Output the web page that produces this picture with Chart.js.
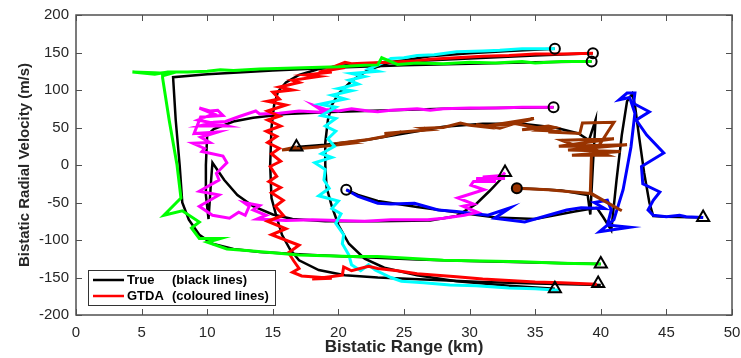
<!DOCTYPE html>
<html>
<head>
<meta charset="utf-8">
<script src="https://cdn.jsdelivr.net/npm/chart.js@4.4.1/dist/chart.umd.min.js"></script>
<style>
    html, body { margin: 0; padding: 0; background: #fff; }
    #wrap { width: 741px; height: 358px; position: relative; }
</style>
</head>
<body>
<div id="wrap"><canvas id="chart"></canvas></div>
<script>
// axes
const xTicks = [0, 5, 10, 15, 20, 25, 30, 35, 40, 45, 50];
const yTicks = [-200, -150, -100, -50, 0, 50, 100, 150, 200];

// true tracks (black lines), [range km, radial velocity m/s]
const greenTrue = [[39.3,138],[35,137],[30,135],[25,133],[20,130],[15,126],[10,121],[7.4,117],[7.6,60],[7.9,0],[8.1,-50],[8.6,-73],[9.4,-93],[10.4,-105],[12,-112],[14,-116],[18,-120],[22,-123],[26,-126],[30,-128],[35,-130],[40,-132]];
const redTrue = [[39.4,149],[35,146],[30,142],[25,138],[22,135],[20,132],[18.5,128],[17,120],[16,110],[15.4,98],[15.1,80],[14.9,50],[14.8,0],[14.9,-44],[15.3,-70],[15.7,-93],[16.3,-112],[17,-127],[18.5,-140],[20.5,-147],[23,-150],[27,-153],[31,-156],[35,-158],[40,-160]];
const cyanTrue = [[36.5,155],[33,152],[30,149],[27,145],[24,137],[22.3,127],[21,112],[20,95],[19.5,80],[19.2,60],[19,30],[19,0],[19.1,-30],[19.5,-55],[20,-80],[20.8,-105],[22,-125],[23.5,-137],[26,-147],[29,-155],[33,-161],[36.5,-165]];
const magentaTrue = [[36.4,77],[32,76],[28,75],[24,73],[20,71],[16,68],[13.5,63],[12,58],[10.5,48],[10,40],[9.9,0],[9.9,-40],[10.1,-72],[10.3,-20],[10.4,3],[11.3,-20],[12.3,-40],[13.5,-55],[15,-66],[16.5,-72],[19,-75],[23,-75],[27,-74],[29,-68],[30.5,-52],[31.5,-35],[32.7,-13]];
const brownTrue = [[16.8,24],[19,27],[22,33],[25,42],[28,51],[31,55],[34,55],[36.5,50],[38.3,42],[39.1,33],[39.6,60],[39.4,0],[39.2,-66],[39,-40],[37,-34],[35,-32],[33.6,-31]];
const blueTrue = [[47.8,-70],[45,-69],[44,-68],[43.7,-50],[43.3,-10],[42.9,40],[42.6,80],[42.4,95],[42,85],[41.6,40],[41.2,-20],[40.8,-87],[40.2,-70],[39.7,-57],[38,-62],[35,-72],[32,-70],[29,-63],[26,-56],[23,-48],[21.5,-40],[20.6,-33]];

// GTDA tracks (coloured lines)
const greenTrack = [[39.3,138],[37,138],[35,136],[34,138],[32,136],[30,137],[28,135],[26,136],[24.5,134],[23.3,143],[23,133.5],[22,133],[20,131],[18,130],[16,129],[14,128],[12,126],[11,127],[10,125],[8.5,124],[7,124],[6,121],[4.3,124],[6,123],[7.2,122],[6.6,119],[6.6,116],[7.1,60],[7.7,0],[8,-44],[6.7,-67],[8.1,-61],[9.4,-76],[8.8,-84],[9.4,-98],[11,-98],[10,-103],[11.5,-112],[13,-114],[15,-117],[17,-120],[19,-121],[21,-122],[23,-122],[25,-124],[28,-127],[31,-128],[34,-129],[37,-131],[40,-132]];
const redTrack = [[39.4,149],[37,148],[35,148],[33,146],[31,145],[29,143],[27,141],[26,139],[24,137],[22.3,136],[21,135],[20.5,137],[19.5,130],[20.5,130],[18.5,124],[19.5,124],[17.5,120],[18.5,118],[16.5,113],[17,110],[15.5,104],[16.5,100],[15,97],[15.5,88],[14.6,85],[16,80],[14.6,72],[15.5,65],[14.6,60],[15.6,52],[14.5,45],[15.3,38],[14.6,30],[15.5,22],[14.9,15],[15.6,5],[14.8,-2],[15.3,-15],[14.7,-22],[15.6,-30],[14.9,-37],[15.8,-47],[15.2,-55],[15.8,-67],[14.6,-75],[16,-85],[14.9,-93],[17,-107],[16.2,-117],[16.6,-128],[17,-138],[16.5,-143],[17.2,-148],[19.5,-151],[18,-152],[20.3,-147],[20.4,-136],[21,-141],[22.3,-135],[23,-138],[24.5,-141],[26,-145],[27.5,-147],[29,-149],[31,-152],[33,-154],[35,-156],[37,-157],[39.7,-159]];
const cyanTrack = [[36.5,155],[34,155],[32.3,153],[31,152],[29,151],[27.3,147],[26,146],[25,143],[24,142],[23.5,137],[22.3,128],[23,125],[21,122],[22,118],[20.8,113],[21.5,108],[20,102],[21,99],[19.5,93],[20.5,88],[18.6,81],[19.8,77],[18.7,66],[19.8,62],[19,52],[19.8,45],[19.2,35],[19.7,25],[18.7,15],[19.5,10],[18.2,3],[19,-6],[18.9,-20],[19.3,-31],[18.5,-41],[20,-48],[19.5,-58],[20.2,-65],[19.8,-78],[20.4,-93],[20.3,-105],[20.8,-120],[21,-133],[21.7,-141],[22.3,-133],[22.8,-140],[24,-150],[24.8,-155],[26.5,-157],[28.5,-160],[30.5,-161],[33,-164],[35,-165],[36.8,-167]];
const magentaTrack = [[36.4,77],[34,77],[32,76],[30,76],[28,75],[27,73],[26,75],[24,73],[23,71],[22.3,72],[21,75],[20,72],[19,74],[18.2,79],[19,70],[17,72],[15.5,69],[14,68],[13.7,72],[12.5,65],[11.4,58],[10.5,57],[9.4,52],[11.5,52],[9.3,60],[10.5,68],[9.4,76],[10.2,72],[10.8,73],[11.2,66],[9.5,64],[9,42],[10.8,44],[9.5,37],[10.2,30],[8.9,29],[9.8,22],[9.6,18],[11.2,12],[11.5,3],[10.7,-11],[10.9,-20],[9.4,-35],[10.9,-40],[9.4,-55],[10.4,-67],[11.7,-71],[12.4,-63],[12.9,-67],[13.2,-55],[12.8,-50],[14,-54],[13.5,-60],[14.5,-67],[13.8,-72],[16,-74],[18,-73],[20,-74],[22,-75],[24,-73],[26.8,-73],[28,-71],[29.6,-67],[30.6,-63],[29.5,-55],[30.3,-52],[29.1,-44],[31.1,-33],[30.1,-27],[30.3,-22],[32,-22],[30.5,-18],[32.7,-18],[31,-16],[32.5,-14],[32.7,-10]];
const brownTrack = [[16.8,24],[15.7,20],[17,22],[18.5,24],[17.5,22.5],[20,27],[21,29],[20.5,30],[22.3,34],[23.5,38],[24.8,44],[23.5,42],[25.5,45],[27,47],[26.5,49],[28,50],[29.3,56],[30,53],[31,51],[30.5,54],[32.3,49],[33,53],[32,54],[34.9,62],[33.5,55],[35.4,49],[34,47],[36,52],[36.5,50],[35.5,46],[37,45],[36,44],[38.4,42],[38.6,56],[41,57],[39.5,16],[37,33],[41,35],[36.8,25],[42,27],[37.5,20],[41.5,18],[37.8,13],[40.5,13],[39.3,20],[39.2,-37],[41.6,-61],[39.2,-38],[36,-33],[33.6,-31]];
const blueTrack = [[47.8,-70],[46.5,-69],[46,-67],[45,-69],[44,-67],[43.6,-60],[44,-47],[44.5,-36],[43.2,-25],[43.1,-2],[44.8,16],[43.5,40],[42.7,60],[43.7,71],[42.5,82],[42.6,96],[42,96],[41.4,87],[42.2,90],[42.6,69],[42.3,24],[41.7,-33],[41,-73],[39.9,-89],[42.2,-83],[40.5,-80],[40.8,-60],[40.5,-47],[39.5,-50],[40.3,-58],[38.5,-57],[37.4,-60],[36,-67],[34.2,-76],[31.9,-71],[33.1,-57],[31.4,-67],[29,-62],[27.6,-60],[25.8,-51],[24,-52],[23,-51],[21.5,-42],[20.6,-33]];

// track markers
const circlePoints = [[39.3,138],[39.4,149],[36.5,155],[36.4,77],[20.6,-33],[33.6,-31]];
const circleFill = ['rgba(0,0,0,0)','rgba(0,0,0,0)','rgba(0,0,0,0)','rgba(0,0,0,0)','rgba(0,0,0,0)','#993300'];
const trianglePoints = [[40,-132],[39.8,-158],[36.5,-165],[32.7,-10],[16.8,24],[47.8,-70]];

const legendLabels = [['True', '(black lines)'], ['GTDA', '(coloured lines)']];
const legendColors = ['#000000', '#ff0000'];

const toXY = pts => pts.map(p => ({ x: p[0], y: p[1] }));

const lineSet = (data, color, width, order) => ({
    data: toXY(data),
    showLine: true,
    borderColor: color,
    borderWidth: width,
    pointRadius: 0,
    tension: 0,
    order: order,
});

const tracks = [
    [greenTrue, greenTrack, '#00ff00'],
    [redTrue, redTrack, '#ff0000'],
    [cyanTrue, cyanTrack, '#00ffff'],
    [magentaTrue, magentaTrack, '#ff00ff'],
    [brownTrue, brownTrack, '#993300'],
    [blueTrue, blueTrack, '#0000ff'],
];

const datasets = [];
tracks.forEach(t => {
    datasets.push(lineSet(t[1], t[2], 3, 2));
    datasets.push(lineSet(t[0], '#000000', 2.5, 3));
});
datasets.push({
    data: toXY(circlePoints),
    showLine: false,
    pointStyle: 'circle',
    pointRadius: 5,
    pointBorderWidth: 2,
    pointBorderColor: '#000',
    pointBackgroundColor: circleFill,
    order: 0,
});
datasets.push({
    data: toXY(trianglePoints),
    showLine: false,
    pointStyle: 'triangle',
    pointRadius: 7,
    pointBorderWidth: 2,
    pointBorderColor: '#000',
    pointBackgroundColor: 'rgba(0,0,0,0)',
    order: 0,
});

// box + inward ticks like matlab
const framePlugin = {
    id: 'frame',
    afterDatasetsDraw(chart) {
        const ctx = chart.ctx;
        const a = chart.chartArea;
        const xs = chart.scales.x;
        const ys = chart.scales.y;
        ctx.save();
        ctx.strokeStyle = '#505050';
        ctx.lineWidth = 1.5;
        ctx.strokeRect(a.left, a.top, a.right - a.left, a.bottom - a.top);
        ctx.lineWidth = 1;
        ctx.beginPath();
        xTicks.forEach(v => {
            const px = Math.round(xs.getPixelForValue(v)) + 0.5;
            ctx.moveTo(px, a.bottom); ctx.lineTo(px, a.bottom - 6);
            ctx.moveTo(px, a.top); ctx.lineTo(px, a.top + 6);
        });
        yTicks.forEach(v => {
            const py = Math.round(ys.getPixelForValue(v)) + 0.5;
            ctx.moveTo(a.left, py); ctx.lineTo(a.left + 6, py);
            ctx.moveTo(a.right, py); ctx.lineTo(a.right - 6, py);
        });
        ctx.stroke();

        // legend in lower-left corner
        const lx = a.left + 12, ly = a.bottom - 45, lw = 187, lh = 35;
        ctx.fillStyle = '#fff';
        ctx.fillRect(lx, ly, lw, lh);
        ctx.strokeStyle = '#333';
        ctx.lineWidth = 1;
        ctx.strokeRect(lx + 0.5, ly + 0.5, lw, lh);
        ctx.font = 'bold 13px "Liberation Sans", Arial, sans-serif';
        ctx.textBaseline = 'middle';
        legendLabels.forEach((lab, i) => {
            const y = ly + 10 + i * 16;
            ctx.strokeStyle = legendColors[i];
            ctx.lineWidth = 2.5;
            ctx.beginPath();
            ctx.moveTo(lx + 5, y);
            ctx.lineTo(lx + 36, y);
            ctx.stroke();
            ctx.fillStyle = '#000';
            ctx.fillText(lab[0], lx + 39, y);
            ctx.fillText(lab[1], lx + 84, y);
        });
        ctx.restore();
    }
};

Chart.defaults.font.family = '"Liberation Sans", Arial, sans-serif';
Chart.defaults.color = '#262626';

new Chart(document.getElementById('chart'), {
    type: 'scatter',
    data: { datasets: datasets },
    options: {
        responsive: true,
        maintainAspectRatio: false,
        animation: false,
        layout: { padding: { top: 15, right: 5, left: 0, bottom: 0 } },
        plugins: {
            legend: { display: false },
            tooltip: { enabled: false },
        },
        scales: {
            x: {
                type: 'linear',
                min: 0,
                max: 50,
                afterBuildTicks: s => { s.ticks = xTicks.map(v => ({ value: v })); },
                ticks: { font: { size: 15 }, padding: 9, maxRotation: 0 },
                grid: { display: false, drawTicks: false },
                border: { display: false },
                title: {
                    display: true,
                    text: 'Bistatic Range (km)',
                    font: { size: 17, weight: 'bold' },
                    padding: { top: 0, bottom: 0 },
                },
                afterFit: s => { s.height = 43; s.paddingLeft = 0; s.paddingRight = 0; },
            },
            y: {
                type: 'linear',
                min: -200,
                max: 200,
                afterBuildTicks: s => { s.ticks = yTicks.map(v => ({ value: v })); },
                ticks: { font: { size: 15 }, padding: 7 },
                grid: { display: false, drawTicks: false },
                border: { display: false },
                title: {
                    display: true,
                    text: 'Bistatic Radial Velocity (m/s)',
                    font: { size: 15, weight: 'bold' },
                    padding: { top: 16, bottom: 0 },
                },
                afterFit: s => { s.width = 76; s.paddingTop = 0; s.paddingBottom = 0; },
            },
        },
    },
    plugins: [framePlugin],
});
</script>
</body>
</html>
